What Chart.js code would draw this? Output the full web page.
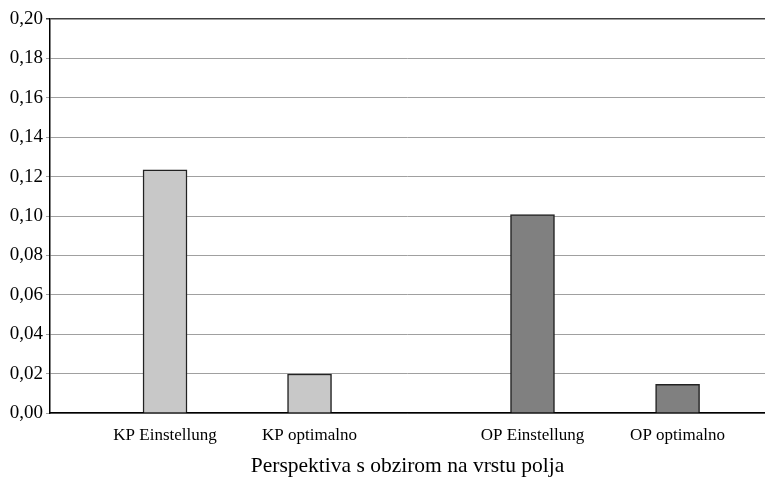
<!DOCTYPE html>
<html>
<head>
<meta charset="utf-8">
<script src="https://cdn.jsdelivr.net/npm/chart.js@4.4.1/dist/chart.umd.min.js"></script>
<style>
  html, body { margin:0; padding:0; background:#fff; }
  #wrap { width:765px; height:479px; }
</style>
</head>
<body>
<div id="wrap"><canvas id="c"></canvas></div>
<script>
/* ==== Data ==== */
const categories = ['KP Einstellung', 'KP optimalno', 'OP Einstellung', 'OP optimalno'];
const positions = [1, 2, 3.543, 4.547];   // gap between KP and OP groups is wider
const values = [0.1234, 0.0198, 0.1007, 0.0146];
const barColors = ['#c8c8c8', '#c8c8c8', '#808080', '#808080'];
const yTicks = [0, 0.02, 0.04, 0.06, 0.08, 0.10, 0.12, 0.14, 0.16, 0.18, 0.20];
const xTitle = 'Perspektiva s obzirom na vrstu polja';

const serif = '"Liberation Serif", "Times New Roman", serif';

new Chart(document.getElementById('c'), {
  type: 'bar',
  data: {
    datasets: [{
      data: positions.map((x, i) => ({ x: x, y: values[i] })),
      backgroundColor: barColors,
      borderColor: '#222',
      borderWidth: 1.5,
      borderSkipped: 'bottom',
      barThickness: 44
    }]
  },
  options: {
    responsive: true,
    maintainAspectRatio: false,
    animation: false,
    layout: { padding: { top: 19, right: 0, left: 0, bottom: 0 } },
    plugins: { legend: { display: false }, tooltip: { enabled: false } },
    scales: {
      x: {
        type: 'linear',
        offset: false,
        min: 0.204, max: 5.152,
        afterBuildTicks: s => { s.ticks = positions.map(v => ({ value: v })); },
        afterFit: s => { s.height = 66; },
        grid: { display: false },
        border: { display: true, color: '#000', width: 1.5 },
        ticks: {
          autoSkip: false, maxRotation: 0, padding: 4,
          color: '#000', font: { family: serif, size: 17 },
          callback: (v, i) => categories[i]
        },
        title: { display: true, text: xTitle, color: '#000', padding: 0,
                 font: { family: serif, size: 21.5 } }
      },
      y: {
        min: 0, max: 0.2,
        afterBuildTicks: s => { s.ticks = yTicks.map(v => ({ value: v })); },
        afterFit: s => { s.width = 50; },
        grid: {
          color: c => (c.tick && c.tick.value >= 0.2 ? '#404040' : '#a0a0a0'),
          lineWidth: c => (c.tick && c.tick.value >= 0.2 ? 1.5 : 1),
          tickLength: 4
        },
        border: { display: true, color: '#000', width: 1.5 },
        ticks: {
          padding: 3, color: '#000', font: { family: serif, size: 19 },
          callback: v => v.toFixed(2).replace('.', ',')
        }
      }
    }
  }
});
</script>
</body>
</html>
